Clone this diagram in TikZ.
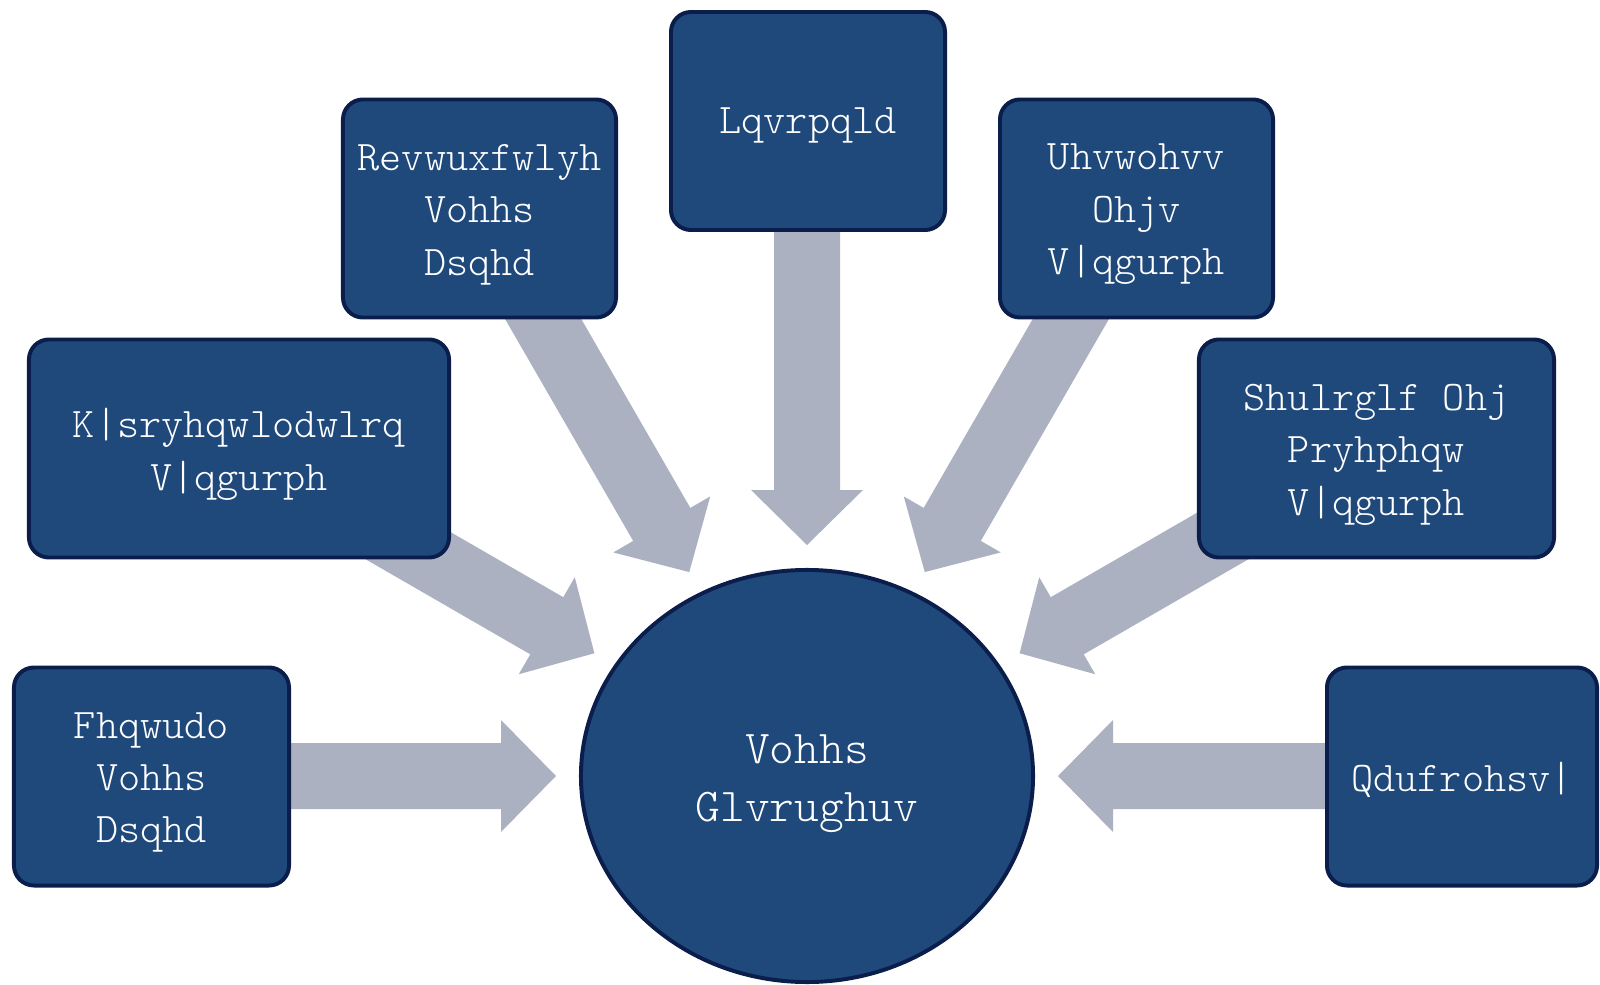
\documentclass[tikz,border=0pt]{standalone}
\usepackage{fontspec}
\usetikzlibrary{shapes.geometric}
\newfontfamily\boxfont{Latin Modern Mono Light}
\definecolor{boxfill}{HTML}{20497B}
\definecolor{boxline}{HTML}{0A1D4B}
\definecolor{arrowgray}{HTML}{ABB1C0}
\begin{document}
\begin{tikzpicture}[x=0.025cm,y=-0.025cm,
  box/.style={draw=boxline, line width=2.8pt, fill=boxfill, rounded corners=0.5cm,
    inner sep=0pt, minimum height=5.45cm},
  boxtext/.style={text=white, font=\boxfont\fontsize{30}{37.3}\selectfont, align=center, inner sep=0pt},
  hub/.style={ellipse, draw=boxline, line width=2.8pt, fill=boxfill,
    inner sep=0pt, minimum width=11.3cm, minimum height=10.3cm},
  hubtext/.style={text=white, font=\boxfont\fontsize{33.5}{41}\selectfont, align=center, inner sep=0pt},
  blockarrow/.style={fill=arrowgray, draw=none}]
\useasboundingbox (0,0) rectangle (1600,985);
\coordinate (ctr) at (807,776);
% block arrows (drawn first, boxes cover their tails)
\foreach \ang/\d/\L in {180/251/650, 150/245.5/550, 120/235.5/600, 90/231/650, 60/235.5/600, 30/245.5/550, 0/251/650}{
  \begin{scope}[shift={(ctr)}, rotate=\ang]
    \fill[blockarrow] (\d,0) -- ({\d+55},56) -- ({\d+55},33) -- (\L,33) -- (\L,-33) -- ({\d+55},-33) -- ({\d+55},-56) -- cycle;
  \end{scope}
}
\node[hub] (sleep) at (ctr) {};
\node[hubtext] (sleep-t) at ([yshift=-0.2cm]sleep.center) {Vohhs\\Glvrughuv};
\node[box, minimum width=6.875cm] (central) at (151.5,776.5) {};
\node[boxtext] (central-t) at ([yshift=-0.15cm]central.center) {Fhqwudo\\Vohhs\\Dsqhd};
\node[box, minimum width=10.5cm] (hypo) at (239,448.5) {};
\node[boxtext] (hypo-t) at ([yshift=-0.15cm]hypo.center) {K|sryhqwlodwlrq\\V|qgurph};
\node[box, minimum width=6.825cm] (obstr) at (479.5,208.5) {};
\node[boxtext] (obstr-t) at ([yshift=-0.15cm]obstr.center) {Revwuxfwlyh\\Vohhs\\Dsqhd};
\node[box, minimum width=6.85cm] (insom) at (808,121) {};
\node[boxtext] (insom-t) at ([yshift=-0.12cm]insom.center) {Lqvrpqld};
\node[box, minimum width=6.825cm] (restless) at (1136.5,208.5) {};
\node[boxtext] (restless-t) at ([yshift=-0.15cm]restless.center) {Uhvwohvv\\Ohjv\\V|qgurph};
\node[box, minimum width=8.875cm] (periodic) at (1376.5,448.5) {};
\node[boxtext] (periodic-t) at ([yshift=-0.15cm]periodic.center) {Shulrglf Ohj\\Pryhphqw\\V|qgurph};
\node[box, minimum width=6.75cm] (narco) at (1462,776.5) {};
\node[boxtext] (narco-t) at ([yshift=-0.08cm]narco.center) {Qdufrohsv|};
\end{tikzpicture}
\end{document}
